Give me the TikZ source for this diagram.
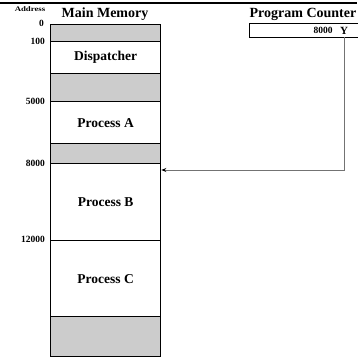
\documentclass[tikz,border=0pt]{standalone}
\usepackage{fontspec}
\setmainfont{Liberation Serif}
\usetikzlibrary{arrows.meta,calc}
\definecolor{memgray}{HTML}{CCCCCC}
\tikzset{
  seg/.style={draw=black, line width=1.3pt, anchor=north west, inner sep=0pt,
    minimum width=110pt, font=\bfseries\fontsize{13.5}{15}\selectfont},
  graySeg/.style={seg, fill=memgray},
  addr/.style={anchor=east, inner sep=0pt, font=\bfseries\fontsize{9.5}{11}\selectfont},
  head/.style={inner sep=0pt, font=\bfseries\fontsize{14}{16}\selectfont},
  link/.style={draw=black!55, line width=1pt, -{Stealth[length=5pt,width=4pt,black]}}
}
\begin{document}
\begin{tikzpicture}[x=1pt,y=-1pt]
\useasboundingbox (0,0) rectangle (357,358);
\draw[line width=2pt] (0,3.5) -- (357,3.5);
% headings
\node[inner sep=0pt, font=\bfseries\fontsize{7}{8}\selectfont, xscale=1.25] (addrhead) at (30,9.5) {Address};
\node[head] (mmhead) at (105,14) {Main Memory};
\node[head] (pchead) at (303,14) {Program Counter};
% memory segments
\node[graySeg, minimum height=17pt] (s0) at (50,24) {};
\node[seg, minimum height=32pt] (disp) at (50,41) {Dispatcher};
\node[graySeg, minimum height=28pt] (s2) at (50,73) {};
\node[seg, minimum height=42pt] (procA) at (50,101) {Process A};
\node[graySeg, minimum height=20pt] (s4) at (50,143) {};
\node[seg, minimum height=77pt] (procB) at (50,163) {Process B};
\node[seg, minimum height=76pt] (procC) at (50,240) {Process C};
\node[graySeg, minimum height=40pt] (s7) at (50,316) {};
% addresses
\node[addr] (a0) at (44,23) {0};
\node[addr] (a100) at (45,41) {100};
\node[addr] (a5000) at (45,101) {5000};
\node[addr] (a8000) at (45,163) {8000};
\node[addr] (a12000) at (45,239) {12000};
% program counter
\node[draw=black, line width=1.3pt, anchor=north west, inner sep=0pt,
  minimum width=115pt, minimum height=14pt] (pc) at (248.5,23) {};
\node[inner sep=0pt, font=\bfseries\fontsize{9.5}{11}\selectfont] (pcval) at (323,30.5) {8000};
\node[inner sep=0pt, font=\bfseries\fontsize{11}{12}\selectfont] (ymark) at (344,30.5) {Y};
% arrow
\coordinate (pcstart) at (344,37);
\coordinate (target) at ($(procB.north east)+(0,7)$);
\draw[link] (pcstart) |- (target);
\end{tikzpicture}
\end{document}
